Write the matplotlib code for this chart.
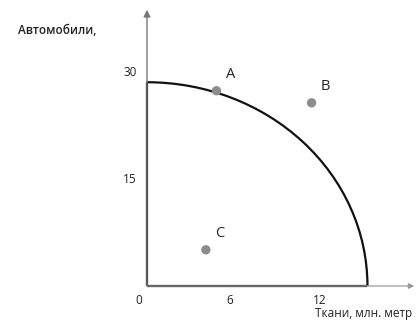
import matplotlib
matplotlib.use('Agg')
import matplotlib.pyplot as plt
from matplotlib import transforms
from matplotlib.patches import Arc

plt.rcParams['font.family'] = ['Open Sans', 'DejaVu Sans']

# production possibilities frontier: max of each good
frontier_max_x = 14.6   # ткани
frontier_max_y = 28.7   # автомобили

point_names = ['A', 'B', 'C']
point_x = [4.6, 10.9, 3.9]
point_y = [27.5, 25.8, 5.1]

x_ticks = [0, 6, 12]
y_ticks = [15, 30]

fig = plt.figure(figsize=(4.16, 3.27), dpi=100)
ax = fig.add_axes([0, 0, 1, 1])
ax.set_xlim(-147 / 15.1, (416 - 147) / 15.1)
ax.set_ylim(-41 / 7.1, (327 - 41) / 7.1)
ax.axis('off')

# thin axis arrows
ax.annotate('', xy=(0, 38.9), xytext=(0, 0),
            arrowprops=dict(arrowstyle='-|>', color='#777777', lw=1.0,
                            mutation_scale=10, shrinkA=0, shrinkB=0))
ax.annotate('', xy=(17.7, 0), xytext=(0, 0),
            arrowprops=dict(arrowstyle='-|>', color='#999999', lw=0.9,
                            mutation_scale=8, shrinkA=0, shrinkB=0))

# thick frame under the frontier
ax.plot([0, 0], [0, frontier_max_y], color='#111111', lw=1.6, solid_capstyle='butt')
ax.plot([0, frontier_max_x], [0, 0], color='#111111', lw=1.6, solid_capstyle='butt')
ax.add_patch(Arc((0, 0), 2 * frontier_max_x, 2 * frontier_max_y, theta1=0, theta2=90,
                 color='#111111', lw=1.6))

ax.scatter(point_x, point_y, s=45, color='#8c8c8c', zorder=3, edgecolors='none')
for name, px, py in zip(point_names, point_x, point_y):
    off = transforms.offset_copy(ax.transData, fig=fig, x=14, y=16, units='dots')
    ax.text(px, py, name, transform=off, fontsize=10.5, color='#222222',
            ha='center', va='center')

xoff = transforms.offset_copy(ax.transData, fig=fig, x=-8, y=-14, units='dots')
for t in x_ticks:
    ax.text(t, 0, str(t), transform=xoff, fontsize=8.5, color='#222222',
            ha='center', va='center')
yoff = transforms.offset_copy(ax.transData, fig=fig, x=-10, y=0, units='dots')
for t in y_ticks:
    ax.text(0, t, str(t), transform=yoff, fontsize=8.5, color='#222222',
            ha='right', va='center')

fig.text(18 / 416, 1 - 30 / 327, 'Автомобили,', fontsize=8.5, fontweight='semibold',
         color='#222222', ha='left', va='center')
fig.text(412 / 416, 1 - 313 / 327, 'Ткани, млн. метр', fontsize=8.5,
         color='#222222', ha='right', va='center')

fig.savefig('out.png', dpi=100)
